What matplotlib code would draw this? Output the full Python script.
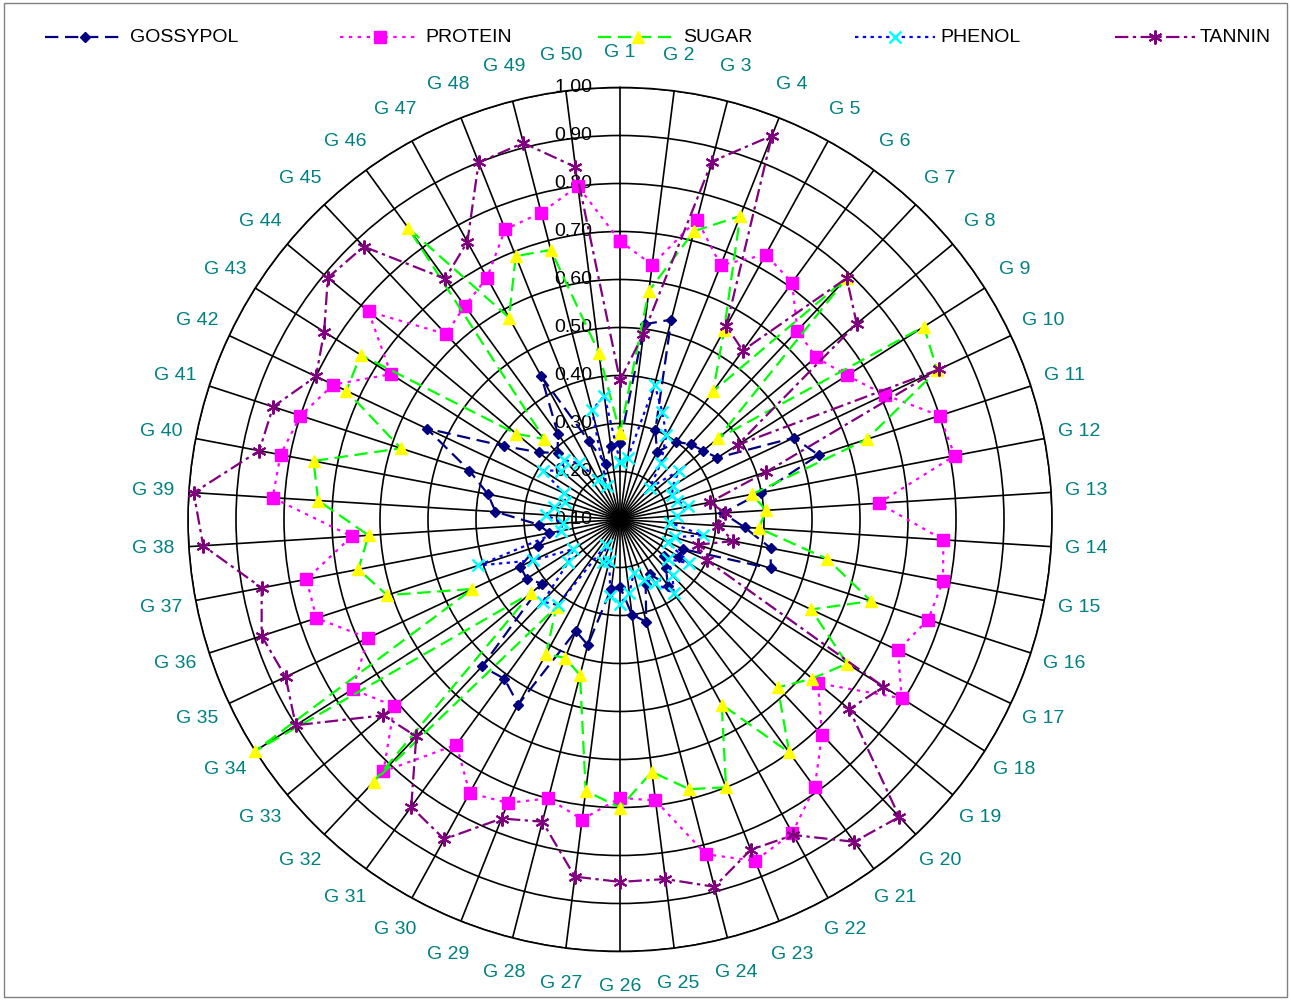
import numpy as np
import matplotlib
matplotlib.use("Agg")
import matplotlib.pyplot as plt
from matplotlib.lines import Line2D
from matplotlib.patches import Rectangle
from matplotlib import font_manager

# ------------------------------------------------------------
# dados (50 genótipos, escala 0.1 - 1.0)
# ------------------------------------------------------------
genotypes = [f"G {i}" for i in range(1, 51)]

gossypol = [0.26, 0.51, 0.53, 0.30, 0.26, 0.30, 0.315, 0.325, 0.34, 0.50,
            0.535, 0.40, 0.315, 0.36, 0.42, 0.43, 0.245, 0.245, 0.22, 0.24,
            0.27, 0.23, 0.245, 0.32, 0.30, 0.24, 0.245, 0.37, 0.35, 0.54,
            0.51, 0.52, 0.31, 0.33, 0.33, 0.28, 0.25, 0.27, 0.36, 0.38,
            0.43, 0.545, 0.385, 0.32, 0.29, 0.32, 0.44, 0.275, 0.22, 0.255]

protein = [0.68, 0.635, 0.745, 0.67, 0.73, 0.71, 0.64, 0.63, 0.66, 0.71,
           0.80, 0.81, 0.64, 0.775, 0.785, 0.775, 0.74, 0.795, 0.635, 0.715,
           0.79, 0.845, 0.865, 0.82, 0.69, 0.68, 0.73, 0.70, 0.735, 0.75,
           0.68, 0.82, 0.71, 0.76, 0.68, 0.765, 0.765, 0.66, 0.825, 0.82,
           0.80, 0.76, 0.665, 0.78, 0.63, 0.65, 0.675, 0.75, 0.76, 0.80]

sugar = [0.28, 0.58, 0.72, 0.78, 0.55, 0.43, 0.79, 0.365, 0.85, 0.83,
         0.64, 0.38, 0.405, 0.39, 0.54, 0.65, 0.54, 0.66, 0.62, 0.58,
         0.70, 0.54, 0.70, 0.68, 0.63, 0.70, 0.67, 0.435, 0.41, 0.42,
         0.325, 0.85, 0.34, 1.00, 0.44, 0.61, 0.655, 0.625, 0.73, 0.75,
         0.58, 0.73, 0.74, 0.38, 0.33, 0.85, 0.58, 0.69, 0.68, 0.45]

phenol = [0.22, 0.23, 0.39, 0.34, 0.30, 0.245, 0.19, 0.26, 0.23, 0.22,
          0.225, 0.245, 0.22, 0.205, 0.275, 0.22, 0.21, 0.27, 0.23, 0.26,
          0.29, 0.25, 0.235, 0.215, 0.255, 0.275, 0.26, 0.19, 0.195, 0.16,
          0.32, 0.335, 0.24, 0.215, 0.30, 0.41, 0.225, 0.22, 0.255, 0.24,
          0.22, 0.23, 0.29, 0.26, 0.27, 0.245, 0.195, 0.175, 0.335, 0.36]

tannin = [0.39, 0.49, 0.87, 0.96, 0.56, 0.535, 0.79, 0.74, 0.39, 0.835,
          0.42, 0.29, 0.32, 0.305, 0.34, 0.27, 0.30, 0.75, 0.72, 0.95,
          0.93, 0.85, 0.84, 0.89, 0.855, 0.855, 0.85, 0.75, 0.77, 0.86,
          0.84, 0.72, 0.74, 0.90, 0.87, 0.885, 0.86, 0.97, 0.99, 0.865,
          0.86, 0.80, 0.83, 0.89, 0.88, 0.72, 0.76, 0.90, 0.91, 0.84]

r_ticks = [0.10, 0.20, 0.30, 0.40, 0.50, 0.60, 0.70, 0.80, 0.90, 1.00]

# estilo de cada série (estilo "Excel")
series = [
    ("GOSSYPOL", gossypol, dict(color="#000080", dashes=(6, 3), marker="D", ms=5,
                                mfc="#000080", mec="#000080")),
    ("PROTEIN", protein, dict(color="#FF00FF", dashes=(1.5, 2.5), marker="s", ms=8,
                              mfc="#FF00FF", mec="#FF00FF")),
    ("SUGAR", sugar, dict(color="#00FF00", dashes=(6, 3), marker="^", ms=8,
                          mfc="#FFFF00", mec="#FFFF00")),
    ("PHENOL", phenol, dict(color="#0000FF", dashes=(1.5, 2), marker="x", ms=8,
                            mfc="#00FFFF", mec="#00FFFF", mew=1.8)),
    ("TANNIN", tannin, dict(color="#800080", dashes=(6, 2, 1.5, 2), marker=(6, 2, 0), ms=10,
                            mfc="#800080", mec="#800080", mew=1.5)),
]

available = {f.name for f in font_manager.fontManager.ttflist}
base_font = "Liberation Sans" if "Liberation Sans" in available else "DejaVu Sans"
plt.rcParams["font.family"] = base_font

# ------------------------------------------------------------
# figura
# ------------------------------------------------------------
fig = plt.figure(figsize=(12.91, 10), dpi=100)
ax = fig.add_axes([0.1456, 0.0485, 0.6693, 0.864], projection="polar")
ax.set_theta_zero_location("N")
ax.set_theta_direction(-1)
ax.set_ylim(0.1, 1.0)

angles = np.linspace(0, 2 * np.pi, len(genotypes), endpoint=False)
ax.set_xticks(angles)
ax.set_xticklabels(genotypes, color="#008080", fontsize=14)
ax.tick_params(axis="x", pad=15)
ax.set_yticks(r_ticks[1:])
ax.set_yticklabels([])
ax.grid(True, color="black", lw=1.2)
ax.set_axisbelow(True)
ax.spines["polar"].set_color("black")
ax.spines["polar"].set_linewidth(1.2)

for v in r_ticks:
    ax.annotate(f"{v:.2f}", xy=(0, v), xytext=(-20, 0), textcoords="offset points",
                ha="right", va="center", fontsize=14, color="black", zorder=3)

theta = np.append(angles, angles[0])
for i, (name, vals, st) in enumerate(series):
    vals_closed = np.append(vals, vals[0])
    ax.plot(theta, vals_closed, lw=1.6, zorder=4 + i, clip_on=False, **st)

# legenda desenhada manualmente no topo
legend_x = [45, 340, 598, 855, 1115]
for (name, vals, st), x0 in zip(series, legend_x):
    xs = np.array([x0, x0 + 40, x0 + 80]) / 1291
    ys = 1 - np.array([37, 37, 37]) / 1000
    fig.add_artist(Line2D(xs, ys, transform=fig.transFigure, lw=1.6, markevery=[1], **st))
    fig.text((x0 + 85) / 1291, 1 - 37 / 1000, name, fontsize=14,
             ha="left", va="center", color="black")

fig.add_artist(Rectangle((4 / 1291, 3 / 1000), 1283 / 1291, 994 / 1000,
                         transform=fig.transFigure, fill=False,
                         edgecolor="#808080", lw=1))

fig.savefig("out.png", dpi=100)
plt.close(fig)
